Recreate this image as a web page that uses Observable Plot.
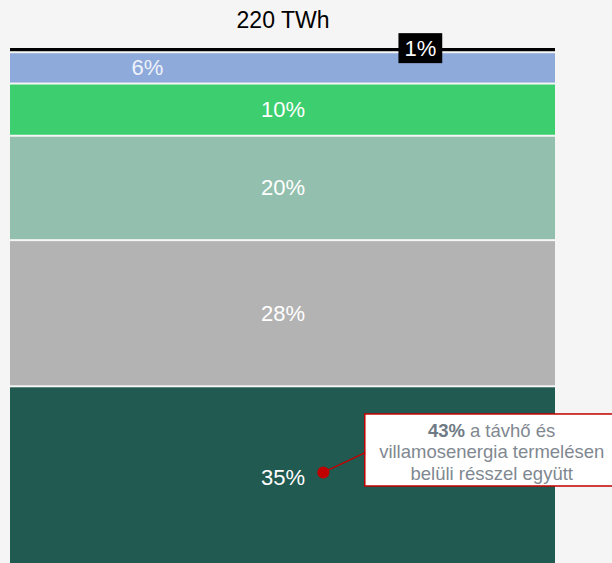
<!DOCTYPE html>
<html>
<head>
<meta charset="utf-8">
<script src="https://cdn.jsdelivr.net/npm/d3@7"></script>
<script src="https://cdn.jsdelivr.net/npm/@observablehq/plot@0.6"></script>
<style>
  html, body { margin: 0; padding: 0; background: #f5f5f5; overflow: hidden; }
  #chart svg { display: block; }
</style>
</head>
<body>
<div id="chart"></div>
<script>
// Shares of the 220 TWh total, stacked from the bottom up
const total = "220 TWh";
const categories = ["seg1", "seg2", "seg3", "seg4", "seg5", "seg6"];
const shares = [35, 28, 20, 10, 6, 1];
const colors = ["#215a50", "#b3b3b3", "#93c0ae", "#3dce6f", "#8eaadb", "#000000"];
const note = ["43%", "a távhő és", "villamosenergia termelésen", "belüli résszel együtt"];

// Cumulative extents for each segment
const ends = d3.cumsum(shares);
const data = categories.map((c, i) => ({
  category: c,
  share: shares[i],
  color: colors[i],
  y1: ends[i] - shares[i],
  y2: ends[i],
  mid: ends[i] - shares[i] / 2,
  label: shares[i] + "%"
}));
const totalShare = d3.sum(shares);

const big = data.filter(d => d.share >= 10);
const small6 = data.filter(d => d.share === 6);
const small1 = data.filter(d => d.share === 1);
const base = data[0]; // segment that carries the callout

const noteColor = "#7f8891";

const chart = Plot.plot({
  width: 612,
  height: 563,
  margin: 0,
  x: { domain: [0, 1], range: [10, 555], axis: null },
  y: { domain: [0, 100], range: [569, 47], axis: null },
  color: { type: "identity" },
  style: { background: "#f5f5f5", fontFamily: "'Liberation Sans', Arial, sans-serif", overflow: "hidden" },
  marks: [
    Plot.rect(data, { x1: 0, x2: 1, y1: "y1", y2: "y2", fill: "color", insetTop: 1, insetBottom: 1 }),
    // total above the bar
    Plot.text([totalShare], { x: 0.5, y: d => d, text: () => total, dy: -27, fontSize: 23, fill: "#000" }),
    // segment labels
    Plot.text(big, { x: 0.5, y: "mid", text: "label", fill: "#fff", fontSize: 22 }),
    Plot.text(small6, { x: 0.251, y: "mid", text: "label", fill: "#eef2fa", fontSize: 22 }),
    Plot.text(small1, { x: 0.752, y: "mid", text: "label", fill: "#fff", fontSize: 22, dy: -1, className: "boxed" }),
    // callout for the bottom segment
    Plot.rect([base], { x1: 0.651, x2: 1.14, y1: 15.9, y2: 29.7, fill: "#fff", stroke: "#c00000", strokeWidth: 1.5 }),
    Plot.link([base], { x1: 0.574, y1: base.mid + 1.1, x2: 0.651, y2: 22.4, stroke: "#c00000", strokeWidth: 1.3 }),
    Plot.dot([base], { x: 0.574, y: base.mid + 1.1, r: 6, fill: "#c00000" }),
    Plot.text([note[0]], { x: 0.834, y: 26.6, text: d => d, textAnchor: "end", fontWeight: "bold", fontSize: 18.5, fill: "#6f7a84" }),
    Plot.text([note[1]], { x: 0.843, y: 26.6, text: d => d, textAnchor: "start", fontSize: 18.5, fill: noteColor }),
    Plot.text([note[2]], { x: 0.883, y: 22.4, text: d => d, fontSize: 18.5, fill: noteColor }),
    Plot.text([note[3]], { x: 0.883, y: 18.2, text: d => d, fontSize: 18.5, fill: noteColor })
  ]
});

document.getElementById("chart").appendChild(chart);

// Black box behind the small top label (same transform as its text)
d3.select(chart).selectAll("g.boxed text").each(function () {
  const b = this.getBBox();
  d3.select(this.parentNode).insert("rect", () => this)
    .attr("transform", this.getAttribute("transform"))
    .attr("x", b.x - 6).attr("y", b.y - 3)
    .attr("width", b.width + 12).attr("height", b.height + 5)
    .attr("fill", "#000");
});
</script>
</body>
</html>
